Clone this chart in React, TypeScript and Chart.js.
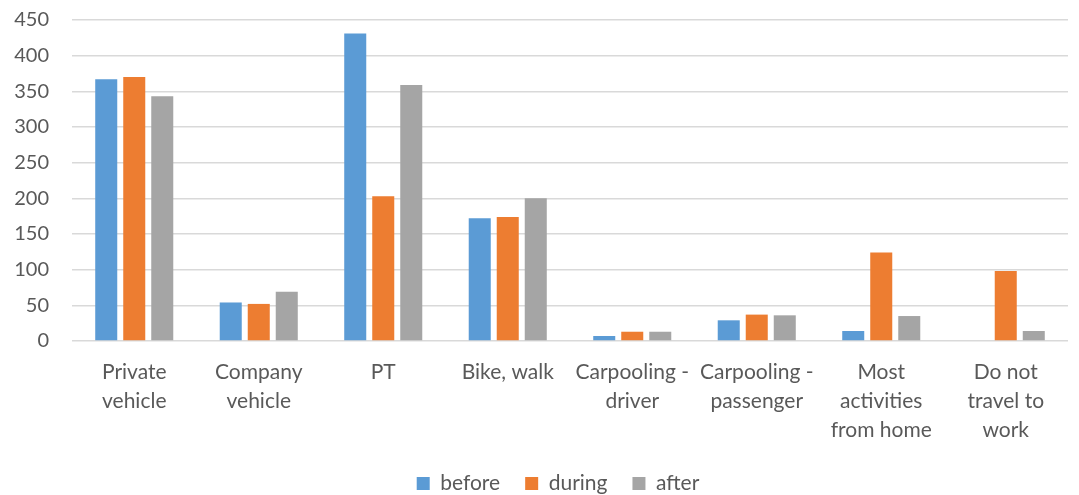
import React, { useEffect, useRef } from "react";
import { Chart, registerables } from "chart.js";

Chart.register(...registerables);

const categories: string[][] = [
  ["Private", "vehicle"],
  ["Company", "vehicle"],
  ["PT"],
  ["Bike, walk"],
  ["Carpooling -", "driver"],
  ["Carpooling -", "passenger"],
  ["Most", "activities", "from home"],
  ["Do not", "travel to", "work"],
];
const before = [367, 54, 431, 172, 7, 29, 14, 0];
const during = [370, 52, 203, 174, 13, 37, 124, 98];
const after = [343, 69, 359, 200, 13, 36, 35, 14];
const yTicks = [0, 50, 100, 150, 200, 250, 300, 350, 400, 450];

const FONT = "Lato, 'Open Sans', sans-serif";

const shiftLegend = {
  id: "shiftLegend",
  afterLayout(chart: any) {
    if (chart.legend) {
      chart.legend.left += 24;
      chart.legend.right += 24;
    }
  },
};

export default function App() {
  const ref = useRef<HTMLCanvasElement | null>(null);
  useEffect(() => {
    document.body.style.margin = "0";
    const ctx = ref.current!;
    const chart = new Chart(ctx, {
      type: "bar",
      data: {
        labels: categories,
        datasets: [
          { label: "before", data: before, backgroundColor: "#5b9bd5" },
          { label: "during", data: during, backgroundColor: "#ed7d31" },
          { label: "after", data: after, backgroundColor: "#a5a5a5" },
        ],
      },
      plugins: [shiftLegend],
      options: {
        animation: false,
        responsive: false,
        maintainAspectRatio: false,
        layout: { padding: { top: 0, right: 11, left: 0, bottom: -9 } },
        datasets: {
          bar: { categoryPercentage: 0.675, barPercentage: 0.786 },
        },
        plugins: {
          tooltip: { enabled: false },
          legend: {
            position: "bottom",
            labels: {
              boxWidth: 13,
              boxHeight: 13,
              color: "#595959",
              font: { family: FONT, size: 21 },
              padding: 25,
            },
          },
        },
        scales: {
          x: {
            grid: { display: false },
            border: { display: false },
            afterFit: (axis: any) => {
              axis.height = 107;
            },
            ticks: {
              color: "#595959",
              font: { family: FONT, size: 21, lineHeight: 1.38 },
              maxRotation: 0,
              autoSkip: false,
              padding: 9,
            },
          },
          y: {
            min: 0,
            max: 450,
            afterBuildTicks: (axis: any) => {
              axis.ticks = yTicks.map((v) => ({ value: v }));
            },
            afterFit: (axis: any) => {
              axis.width = 72;
              axis.paddingTop = 20;
              axis.paddingBottom = 5;
            },
            grid: { color: "#d9d9d9", lineWidth: 1.5, drawTicks: false },
            border: { display: false },
            ticks: {
              color: "#595959",
              font: { family: FONT, size: 20 },
              padding: 23,
            },
          },
        },
      },
    });
    return () => chart.destroy();
  }, []);
  return (
    <div style={{ width: 1079, height: 495 }}>
      <canvas ref={ref} width={1079} height={495} style={{ display: "block" }} />
    </div>
  );
}
